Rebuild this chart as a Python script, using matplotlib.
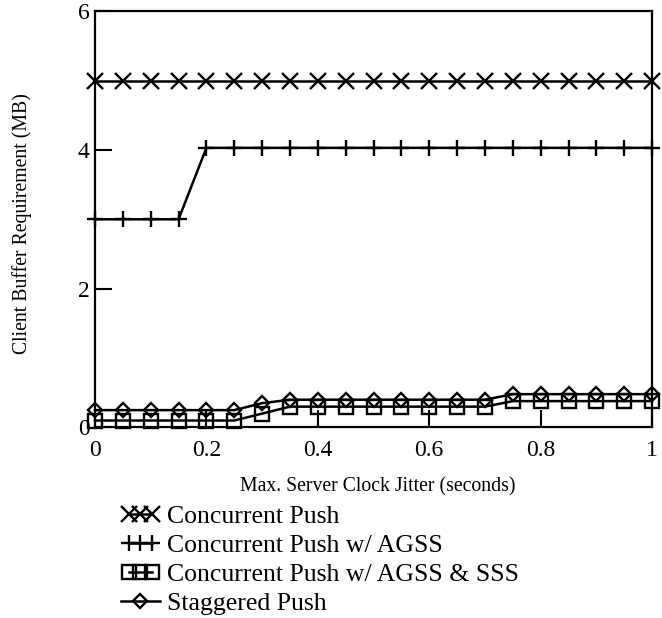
import matplotlib
matplotlib.use("Agg")
import matplotlib.pyplot as plt
from matplotlib.legend_handler import HandlerLine2D

plt.rcParams['font.family'] = ['Liberation Serif', 'DejaVu Serif']

jitter = [0.0, 0.05, 0.10, 0.15, 0.20, 0.25, 0.30, 0.35, 0.40, 0.45, 0.50,
          0.55, 0.60, 0.65, 0.70, 0.75, 0.80, 0.85, 0.90, 0.95, 1.0]
concurrent = [5.0] * 21
agss = [3.0, 3.0, 3.0, 3.0, 4.03, 4.03, 4.03, 4.03, 4.03, 4.03, 4.03,
        4.03, 4.03, 4.03, 4.03, 4.03, 4.03, 4.03, 4.03, 4.03, 4.03]
agss_sss = [0.10, 0.10, 0.10, 0.10, 0.10, 0.10, 0.20, 0.30, 0.30, 0.30, 0.30,
            0.30, 0.30, 0.30, 0.30, 0.38, 0.38, 0.38, 0.38, 0.38, 0.38]
staggered = [0.25, 0.25, 0.25, 0.25, 0.25, 0.25, 0.35, 0.40, 0.40, 0.40, 0.40,
             0.40, 0.40, 0.40, 0.40, 0.48, 0.48, 0.48, 0.48, 0.48, 0.48]

labels = ["Concurrent Push", "Concurrent Push w/ AGSS",
          "Concurrent Push w/ AGSS & SSS", "Staggered Push"]
xticks = [0, 0.2, 0.4, 0.6, 0.8, 1.0]
xticklabels = ["0", "0.2", "0.4", "0.6", "0.8", "1"]
yticks = [0, 2, 4, 6]

fig = plt.figure(figsize=(6.62, 6.18), dpi=100)
ax = fig.add_axes([0.1435, 0.3083, 0.985 - 0.1435, 0.982 - 0.3083])

lw = 1.8
mew = 1.7
l1, = ax.plot(jitter, concurrent, color='black', lw=lw, marker='x', ms=11.5, mew=mew,
              clip_on=False, label=labels[0])
l2, = ax.plot(jitter, agss, color='black', lw=lw, marker='+', ms=12, mew=mew,
              clip_on=False, label=labels[1])
l3, = ax.plot(jitter, agss_sss, color='black', lw=lw, marker='s', ms=9.5, mew=mew,
              mfc='none', clip_on=False, label=labels[2])
l4, = ax.plot(jitter, staggered, color='black', lw=lw, marker='D', ms=7.5, mew=mew,
              mfc='none', clip_on=False, label=labels[3])

ax.set_xlim(0, 1)
ax.set_ylim(0, 6)
ax.set_xticks(xticks)
ax.set_xticklabels(xticklabels)
ax.set_yticks(yticks)
ax.tick_params(direction='in', length=12, width=1.5, labelsize=17, colors='black')
ax.tick_params(axis='x', pad=9)
ax.tick_params(axis='y', pad=4)
for s in ax.spines.values():
    s.set_linewidth(1.6)
    s.set_color('black')

fig.text(0.571, 1 - 487 / 618, "Max. Server Clock Jitter (seconds)", ha='center',
         va='center', fontsize=14.2)
fig.text(22 / 662, 1 - 224 / 618, "Client Buffer Requirement (MB)", ha='center',
         va='center', rotation=90, fontsize=14.2)

leg = fig.legend(handles=[l1, l2, l3, l4], labels=labels, loc='upper left',
                 bbox_to_anchor=(121 / 662, 1 - 505 / 618), frameon=False,
                 fontsize=18.5, numpoints=3, handlelength=1.5, handletextpad=0.3,
                 labelspacing=0.24, borderpad=0, borderaxespad=0,
                 handler_map={l4: HandlerLine2D(numpoints=1)})

fig.savefig("out.png", dpi=100)
